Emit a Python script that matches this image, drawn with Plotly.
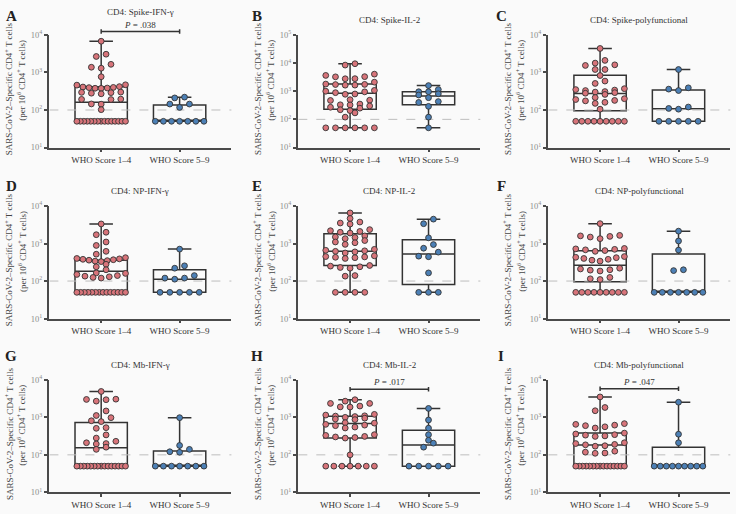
import numpy as np
import plotly.graph_objects as go

# ---------------- data ----------------
categories = ["WHO Score 1–4", "WHO Score 5–9"]
letters = ["A", "B", "C", "D", "E", "F", "G", "H", "I"]
titles = ["CD4: Spike-IFN-γ", "CD4: Spike-IL-2", "CD4: Spike-polyfunctional",
          "CD4: NP-IFN-γ", "CD4: NP-IL-2", "CD4: NP-polyfunctional",
          "CD4: Mb-IFN-γ", "CD4: Mb-IL-2", "CD4: Mb-polyfunctional"]
tick_vals = [10, 100, 1000, 10000, 100000]
tick_text = ["10<sup>1</sup>", "10<sup>2</sup>", "10<sup>3</sup>", "10<sup>4</sup>", "10<sup>5</sup>"]
y_top_decade = [4, 5, 4, 4, 4, 4, 4, 4, 4]
threshold = 100

# WHO score 1-4 (group 1) and 5-9 (group 2) values per panel
a_g1 = [6800, 3070, 2670, 1650, 1300, 1380, 770,
        470, 420, 400, 385, 380, 378, 395, 410, 460,
        300, 295, 290, 280, 270,
        195, 190, 192, 145, 143, 102] + [50] * 15
a_g2 = [220, 210, 144, 144, 117] + [50] * 7
b_g1 = [9500, 8500, 4050, 3650, 3300, 3250, 2800, 2780,
        2100, 1800, 1750, 1730, 1650, 1640,
        1070, 1000, 950, 890, 800, 780,
        500, 480, 470, 350, 330, 325, 300,
        270, 250, 220, 205, 170, 120] + [50] * 6
b_g2 = [1590, 1150, 960, 960, 810, 735, 590, 430, 400, 290, 120, 50]
c_g1 = [4370, 2100, 1780, 1600, 1540, 1200, 1200, 830, 590, 510,
        370, 350, 340, 330, 310, 300, 290, 280, 260,
        215, 200, 190, 180, 175, 160, 150, 105] + [50] * 9
c_g2 = [1200, 390, 360, 330, 120, 110, 105] + [50] * 5
d_g1 = [3330, 2000, 1720, 1100, 890, 620, 520,
        420, 400, 390, 380, 370, 360, 350, 340, 330,
        280, 240, 200,
        165, 160, 150, 140, 135, 130, 125, 120] + [50] * 14
d_g2 = [710, 255, 220, 140, 120, 120, 112] + [50] * 5
e_g1 = [6560, 4660, 3740, 3520, 3300,
        2350, 2200, 2100, 2000, 1900,
        1600, 1500, 1450, 1350, 1200, 1100, 1050, 950,
        700, 660, 640, 620, 600, 560,
        470, 450, 440, 430, 420, 400,
        260, 250, 240, 230, 220, 140, 135] + [50] * 4
e_g2 = [4470, 3380, 1420, 940, 750, 590, 460, 445, 165] + [50] * 3
f_g1 = [3390, 1650, 1600, 1550, 1490, 1350,
        740, 720, 700, 680, 650, 620,
        450, 430, 420, 400, 380, 360, 340,
        220, 210, 200, 195, 185, 125, 115, 110] + [50] * 9
f_g2 = [2140, 1170, 670, 200, 190] + [50] * 7
g_g1 = [4900, 3050, 3000, 2950, 2700, 1480, 1120, 980, 810, 770,
        530, 510, 340, 280, 230, 210, 200, 195, 160, 140] + [50] * 15
g_g2 = [980, 178, 140, 121, 117] + [50] * 7
h_g1 = [2950, 2700, 2350, 2350, 2000, 1900, 1880,
        1200, 1150, 1100, 1080, 1050, 1000, 950, 900, 870,
        720, 700, 650, 620, 600, 550, 520,
        345, 330, 310, 300, 290, 280, 100] + [50] * 7
h_g2 = [1730, 850, 515, 345, 245, 205, 160] + [50] * 5
i_g1 = [3500, 1830, 1500, 680, 650, 620, 600, 560, 520,
        380, 360, 345, 335, 320, 310,
        210, 200, 190, 185, 175, 170,
        125, 118, 112, 110] + [50] * 15
i_g2 = [2530, 355, 210] + [50] * 9

g1_values = [a_g1, b_g1, c_g1, d_g1, e_g1, f_g1, g_g1, h_g1, i_g1]
g2_values = [a_g2, b_g2, c_g2, d_g2, e_g2, f_g2, g_g2, h_g2, i_g2]

# box quartiles: [q1, median, q3]
box_g1 = [[55, 162, 414], [227, 840, 1820], [95, 276, 840],
          [50, 182, 360], [260, 627, 1820], [96, 263, 645],
          [50, 154, 730], [280, 680, 1070], [50, 183, 380]]
box_g2 = [[50, 50, 135], [330, 680, 960], [50, 108, 340],
          [50, 112, 200], [81, 525, 1260], [50, 50, 528],
          [50, 50, 126], [50, 183, 455], [50, 50, 160]]

# significance annotations: panel index -> label, bracket level, text level (log10)
p_labels = {0: ".038", 7: ".017", 8: ".047"}
p_bracket_log = {0: 4.095, 7: 3.75, 8: 3.76}
p_text_log = {0: 4.26, 7: 3.93, 8: 3.94}

# ---------------- style / layout ----------------
W, H = 736, 514
FONT = "Liberation Serif"
BG = "#fafafa"
AX = "#4a4a4a"
BOXC = "#333333"
C1 = "#d8747a"
C2 = "#4c80b6"
EDGE = "#333333"
col_x = [49.4, 298.3, 548.3]
row_top = [29.6, 204.4, 382.0]
PW, PH = 182.0, 115.0
XR = [-0.66, 1.66]
XPX = PW / (XR[1] - XR[0])
DIAM = 5.8
STEP_PX = 9.8
MAXW = 0.62
BOXW = 0.667


def swarm(vals, center, dec_px):
    v = np.asarray(vals, float)
    lg = np.log10(v)
    order = np.argsort(lg, kind="stable")
    dlog = 0.9 * DIAM / dec_px
    rows = []
    for i in order:
        if rows and lg[i] - lg[rows[-1][0]] < dlog:
            rows[-1].append(i)
        else:
            rows.append([i])
    xs = np.zeros(len(v))
    step0 = STEP_PX / XPX
    for row in rows:
        n = len(row)
        step = step0 if n < 2 else min(step0, MAXW / (n - 1))
        offs = [(j - (n - 1) / 2) * step for j in range(n)]
        pos = sorted(offs, key=lambda o: (abs(o), o))
        srt = sorted(row, key=lambda k: lg[k])
        for o, k in zip(pos, srt):
            xs[k] = center + o
    return xs


fig = go.Figure()
layout = dict(width=W, height=H, margin=dict(l=0, r=0, t=0, b=0),
              paper_bgcolor=BG, plot_bgcolor=BG, showlegend=False,
              font=dict(family=FONT, size=9, color="#333"))
annotations = []
shapes = []

for i in range(9):
    r, c = divmod(i, 3)
    sfx = "" if i == 0 else str(i + 1)
    xa, ya = "x" + sfx, "y" + sfx
    x0 = col_x[c]
    yt = row_top[r]
    top = y_top_decade[i]
    dec_px = PH / (top - 1)

    def log_to_paper(L):
        return 1 - (yt + (top - L) * dec_px) / H

    layout["xaxis" + sfx] = dict(
        domain=[x0 / W, (x0 + PW) / W], range=XR, anchor=ya,
        tickvals=[0, 1], ticktext=categories, ticks="outside", ticklen=3,
        tickwidth=1.5, tickcolor=AX, showline=True, linecolor=AX, linewidth=1.8,
        showgrid=False, zeroline=False, tickfont=dict(size=9, color="#333"))
    layout["yaxis" + sfx] = dict(
        domain=[1 - (yt + PH) / H, 1 - yt / H], type="log", range=[1, top],
        anchor=xa, tickvals=tick_vals[:top], ticktext=tick_text[:top],
        ticks="outside", ticklen=3.5, tickwidth=1.5, tickcolor=AX,
        showline=True, linecolor=AX, linewidth=1.8, showgrid=False,
        zeroline=False, tickfont=dict(size=8.5, color="#8c8c8c"))

    # dashed detection threshold line
    fig.add_trace(go.Scatter(x=[XR[0], XR[1] + 0.02], y=[threshold, threshold], mode="lines",
                             line=dict(color="#bdbdbd", width=1, dash="dash"),
                             xaxis=xa, yaxis=ya, hoverinfo="skip", cliponaxis=False))
    v1, v2 = g1_values[i], g2_values[i]
    fig.add_trace(go.Box(
        x=[0, 1], q1=[box_g1[i][0], box_g2[i][0]], median=[box_g1[i][1], box_g2[i][1]],
        q3=[box_g1[i][2], box_g2[i][2]], lowerfence=[min(v1), min(v2)],
        upperfence=[max(v1), max(v2)], width=BOXW, whiskerwidth=0.45,
        fillcolor="rgba(0,0,0,0)", line=dict(color=BOXC, width=1.5),
        boxpoints=False, xaxis=xa, yaxis=ya, hoverinfo="skip"))
    for vals, center, col in ((v1, 0, C1), (v2, 1, C2)):
        fig.add_trace(go.Scatter(
            x=swarm(vals, center, dec_px), y=vals, mode="markers",
            marker=dict(size=DIAM, color=col, line=dict(color=EDGE, width=0.9)),
            xaxis=xa, yaxis=ya, cliponaxis=False, hoverinfo="skip"))

    if i in p_labels:
        yb = log_to_paper(p_bracket_log[i])
        dy = 2.3 / H
        line = dict(color=BOXC, width=1.5)
        shapes.append(dict(type="line", xref=xa, yref="paper", x0=0, x1=1, y0=yb, y1=yb, line=line))
        for xe in (0, 1):
            shapes.append(dict(type="line", xref=xa, yref="paper", x0=xe, x1=xe,
                               y0=yb - dy, y1=yb + dy, line=line))
        annotations.append(dict(x=(x0 + PW / 2) / W, y=log_to_paper(p_text_log[i]),
                                xref="paper", yref="paper",
                                text="<i>P</i> = " + p_labels[i], showarrow=False,
                                font=dict(size=9, color="#333"), xanchor="center",
                                yanchor="middle"))

    # panel title
    ty = 5.7 if i == 0 else yt - 15.5
    annotations.append(dict(x=(x0 + PW / 2) / W, y=1 - ty / H, xref="paper", yref="paper",
                            text=titles[i], showarrow=False, xanchor="center",
                            yanchor="middle", font=dict(size=9, color="#333")))
    # panel letter
    lx = [11, 257, 501][c]
    ly = [10, 184, 357.5][r]
    annotations.append(dict(x=lx / W, y=1 - ly / H, xref="paper", yref="paper",
                            text="<b>" + letters[i] + "</b>", showarrow=False,
                            xanchor="center", yanchor="middle",
                            font=dict(size=15, color="#222")))
    # y-axis titles (two rotated lines)
    cy = yt + PH / 2
    annotations.append(dict(x=(x0 - 41) / W, y=1 - (cy - 2.5) / H, xref="paper", yref="paper",
                            text="SARS-CoV-2–Specific CD4<sup>+</sup> T cells", textangle=-90,
                            showarrow=False, xanchor="center", yanchor="middle",
                            font=dict(size=9, color="#444")))
    annotations.append(dict(x=(x0 - 28) / W, y=1 - (cy - 11) / H, xref="paper", yref="paper",
                            text="(per 10<sup>6</sup> CD4<sup>+</sup> T cells)", textangle=-90,
                            showarrow=False, xanchor="center", yanchor="middle",
                            font=dict(size=9, color="#444")))

layout["annotations"] = annotations
layout["shapes"] = shapes
fig.update_layout(**layout)
fig.write_html("out.html", config={"displayModeBar": False},
               post_script="document.body.style.margin='0';document.body.style.padding='0';")
